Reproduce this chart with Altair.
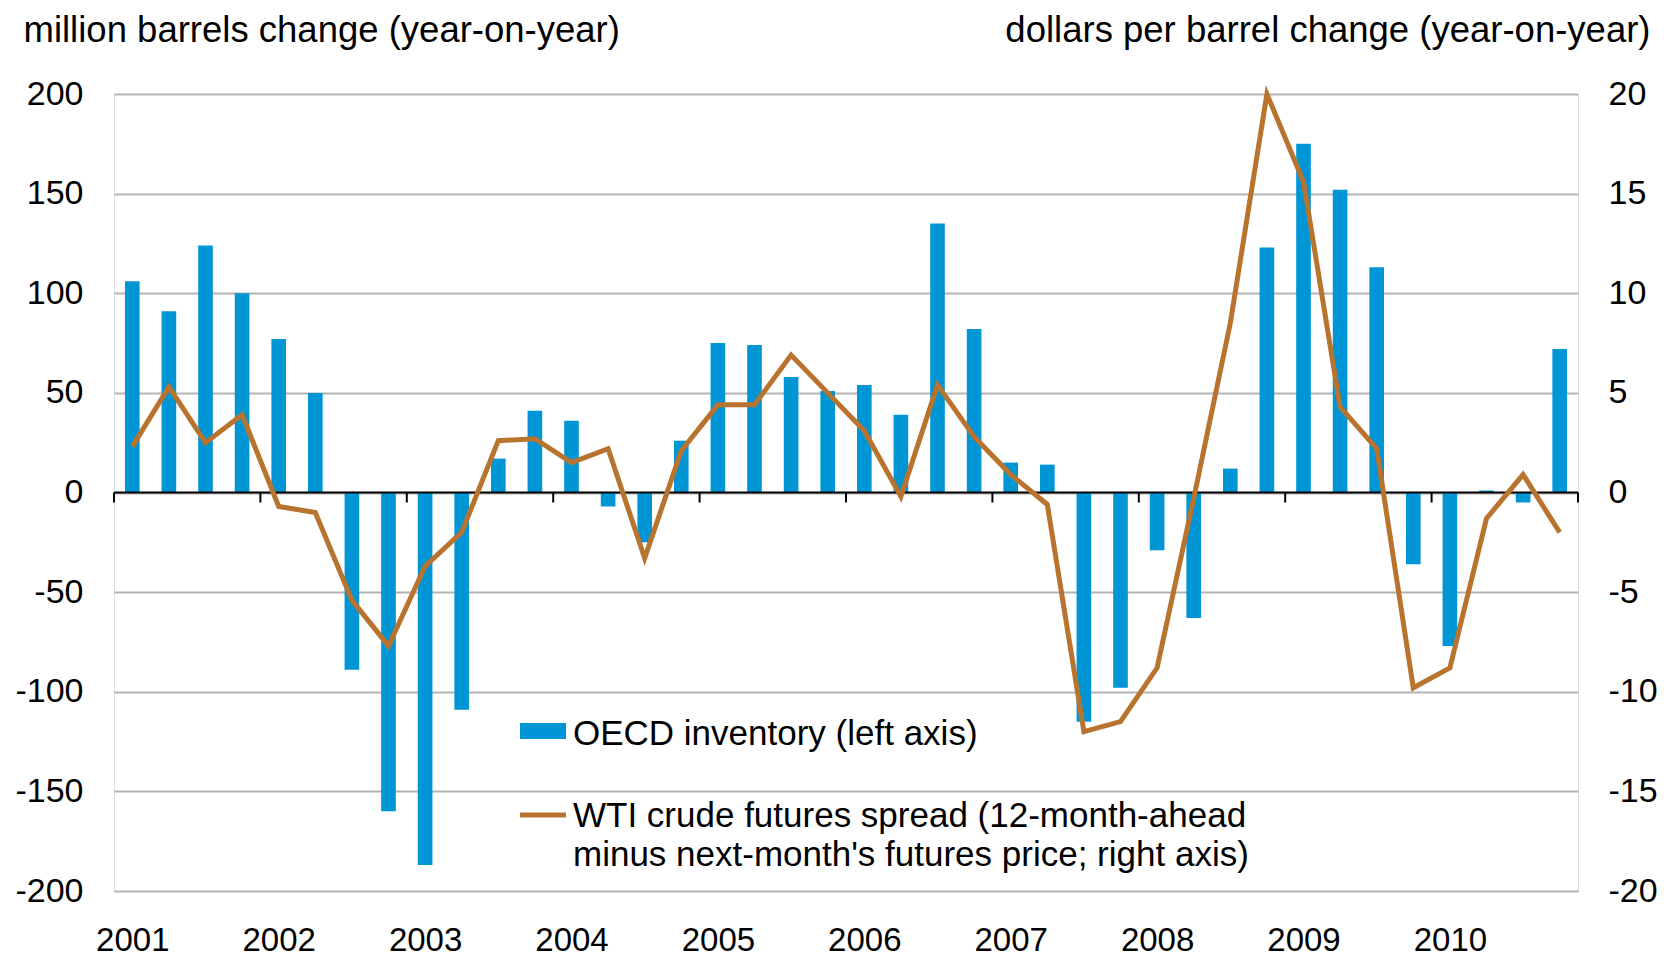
import altair as alt
import pandas as pd

# ---------------- data ----------------
years = ["2001", "2002", "2003", "2004", "2005", "2006", "2007", "2008", "2009", "2010"]
quarter_labels = [f"{y} Q{q}" for y in years for q in range(1, 5)]

# OECD inventory change, million barrels (left axis)
inventory = [106, 91, 124, 100,
             77, 50, -89, -160,
             -187, -109, 17, 41,
             36, -7, -25, 26,
             75, 74, 58, 51,
             54, 39, 135, 82,
             15, 14, -115, -98,
             -29, -63, 12, 123,
             175, 152, 113, -36,
             -77, 1, -5, 72]

# WTI futures spread change, dollars per barrel (right axis)
wti_spread = [2.3, 5.3, 2.5, 3.9,
              -0.7, -1.0, -5.4, -7.7,
              -3.7, -2.0, 2.6, 2.7,
              1.5, 2.2, -3.3, 2.1,
              4.4, 4.4, 6.9, 5.0,
              3.1, -0.2, 5.4, 2.8,
              0.9, -0.6, -12.0, -11.5,
              -8.8, -0.3, 8.5, 20.0,
              15.6, 4.3, 2.2, -9.8,
              -8.8, -1.3, 0.9, -2.0]

left_ticks = [-200, -150, -100, -50, 0, 50, 100, 150, 200]
right_ticks = [-20, -15, -10, -5, 0, 5, 10, 15, 20]

left_title = "million barrels change (year-on-year)"
right_title = "dollars per barrel change (year-on-year)"
legend_bar_label = "OECD inventory (left axis)"
legend_line_label = ["WTI crude futures spread (12-month-ahead",
                     "minus next-month's futures price; right axis)"]

df = pd.DataFrame({
    "quarter": quarter_labels,
    "idx": list(range(len(quarter_labels))),
    "inventory": inventory,
    "wti": wti_spread,
})
year_ticks = pd.DataFrame({"t": [4 * k for k in range(len(years) + 1)]})
dummy = pd.DataFrame({"a": [0]})

# ---------------- style ----------------
W, H = 1464, 797
FONT = "Liberation Sans"
BLUE = "#0096d6"
BROWN = "#b8732e"
GRID = "#b4b4b4"
N = len(quarter_labels)

x_scale = alt.Scale(domain=[0, N], nice=False, zero=False)
years_js = "[" + ",".join(f"'{y}'" for y in years) + "]"
x_axis = alt.Axis(
    values=[4 * k + 0.5 for k in range(len(years))],
    labelExpr=f"{years_js}[floor(datum.value / 4)]",
    domain=False, ticks=False, tickSize=0, grid=False,
    labelPadding=33, labelFontSize=33, labelFont=FONT, labelColor="black",
    labelFlush=False, title=None,
)

left_axis = alt.Axis(
    values=left_ticks, grid=True, gridColor=GRID, gridWidth=2,
    domain=False, ticks=False, tickSize=0,
    labelExpr="'' + datum.value",
    labelPadding=31, labelFontSize=34, labelFont=FONT, labelColor="black",
    title=left_title, titleAngle=0, titleAlign="left", titleBaseline="middle",
    titleX=-91, titleY=-64, titleFontSize=36.5, titleFont=FONT,
    titleFontWeight="normal", titleColor="black",
)
right_axis = alt.Axis(
    orient="right", values=right_ticks, grid=False,
    domain=False, ticks=False, tickSize=0,
    labelExpr="'' + datum.value",
    labelPadding=30, labelFontSize=34, labelFont=FONT, labelColor="black",
    title=right_title, titleAngle=0, titleAlign="right", titleBaseline="middle",
    titleX=72, titleY=-64, titleFontSize=36.5, titleFont=FONT,
    titleFontWeight="normal", titleColor="black",
)

bars = alt.Chart(df).transform_calculate(
    x0="datum.idx + 0.3", x1="datum.idx + 0.7"
).mark_bar(color=BLUE).encode(
    x=alt.X("x0:Q", scale=x_scale, axis=x_axis),
    x2="x1:Q",
    y=alt.Y("inventory:Q", scale=alt.Scale(domain=[-200, 200], nice=False), axis=left_axis),
    y2=alt.datum(0),
)

zero_line = alt.Chart(dummy).mark_rule(color="black", strokeWidth=2).encode(
    x=alt.X("a:Q", scale=x_scale, axis=x_axis),
    x2=alt.datum(N),
    y=alt.datum(0),
)

tick_marks = alt.Chart(year_ticks).mark_rule(color="black", strokeWidth=2, y2Offset=10).encode(
    x=alt.X("t:Q", scale=x_scale, axis=x_axis),
    y=alt.datum(0),
    y2=alt.datum(0),
)

left_layer = alt.layer(bars, zero_line, tick_marks)

line = alt.Chart(df).transform_calculate(
    xc="datum.idx + 0.5"
).mark_line(color=BROWN, strokeWidth=5, strokeJoin="miter").encode(
    x=alt.X("xc:Q", scale=x_scale, axis=x_axis),
    y=alt.Y("wti:Q", scale=alt.Scale(domain=[-20, 20], nice=False), axis=right_axis),
)

# legend (drawn in pixel space)
leg_box = alt.Chart(dummy).mark_rect(color=BLUE).encode(
    x=alt.value(406), x2=alt.value(452), y=alt.value(629), y2=alt.value(645)
)
leg_line = alt.Chart(dummy).mark_rule(color=BROWN, strokeWidth=5).encode(
    x=alt.value(406), x2=alt.value(452), y=alt.value(721)
)
leg_text1 = alt.Chart(dummy).mark_text(
    align="left", baseline="middle", fontSize=35, font=FONT, color="black"
).encode(x=alt.value(459), y=alt.value(640), text=alt.value(legend_bar_label))
leg_text2 = alt.Chart(dummy).mark_text(
    align="left", baseline="middle", fontSize=35, font=FONT, color="black", lineHeight=39
).encode(x=alt.value(459), y=alt.value(722), text=alt.value(legend_line_label))

chart = alt.layer(
    left_layer, line, leg_box, leg_line, leg_text1, leg_text2
).resolve_scale(y="independent").properties(
    width=W, height=H,
    autosize=alt.AutoSizeParams(type="none"),
    padding={"left": 106, "top": 86, "right": 89, "bottom": 67},
).configure_view(stroke=None).configure(background="white")

chart.save("out.html", embed_options={"renderer": "svg", "actions": False})
